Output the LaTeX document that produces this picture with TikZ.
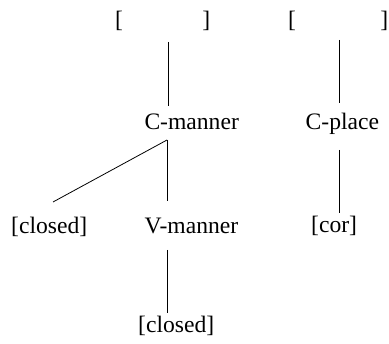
\documentclass[tikz,border=0pt]{standalone}
\usepackage{fontspec}
\setmainfont{Liberation Serif}
\begin{document}
\begin{tikzpicture}[x=1pt,y=-1pt,
  lbl/.style={inner sep=0pt,anchor=base west,font=\fontsize{23.6}{28}\selectfont},
  edge/.style={line width=0.8pt}]
\useasboundingbox (0,0) rectangle (389,344);
% top brackets
\node[lbl] (b1) at (115,28) {[\hspace{79.3pt}]};
\node[lbl] (b2) at (288,28) {[\hspace{84.3pt}]};
% labels
\node[lbl] (cm) at (144.3,130) {C-manner};
\node[lbl] (cp) at (305.5,130) {C-place};
\node[lbl] (cl) at (11,234) {[closed]};
\node[lbl] (vm) at (144.5,234) {V-manner};
\node[lbl] (cor) at (311,233) {[cor]};
\node[lbl] (cl2) at (138,333) {[closed]};
% connector ends
\coordinate (b1d) at (168,42);
\coordinate (cmu) at (168,106);
\coordinate (b2d) at (339,40);
\coordinate (cpu) at (339,103);
\coordinate (cmd) at (167,140);
\coordinate (clu) at (53,202);
\coordinate (vmu) at (167,201);
\coordinate (cpd) at (339,150);
\coordinate (coru) at (339,213);
\coordinate (vmd) at (167,250);
\coordinate (cl2u) at (167,313);
\draw[edge] (b1d) -- (cmu);
\draw[edge] (b2d) -- (cpu);
\draw[edge] (cmd) -- (clu);
\draw[edge] (cmd) -- (vmu);
\draw[edge] (cpd) -- (coru);
\draw[edge] (vmd) -- (cl2u);
\end{tikzpicture}
\end{document}
